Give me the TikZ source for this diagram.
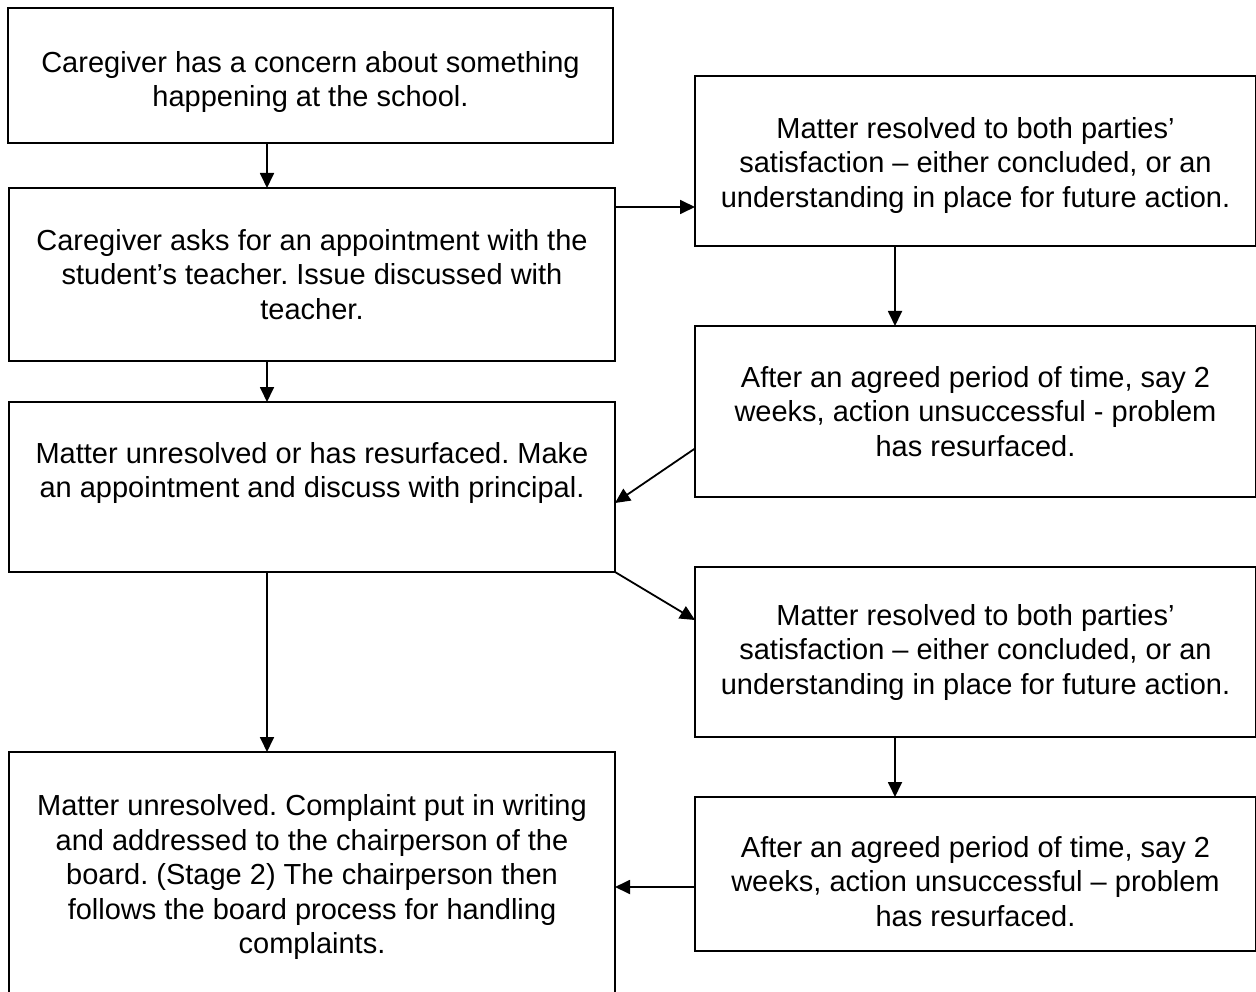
\documentclass[tikz,border=0pt]{standalone}
\usepackage{fontspec}
\setmainfont{Liberation Sans}
\frenchspacing
\usepackage{tikz}
\usetikzlibrary{positioning, arrows.meta}

\begin{document}
\begin{tikzpicture}[x=1pt, y=-1pt,
        box/.style={draw, line width=2pt, inner sep=0pt, outer sep=0pt, align=center,
            font=\fontsize{29}{34.5}\selectfont},
        leftbox/.style={box, minimum width=606pt},
        rightbox/.style={box, minimum width=561pt},
        arr/.style={line width=1.8pt, -{Triangle[length=15pt, width=14pt]}}]
        \useasboundingbox (0,0) rectangle (1256,992);

        % left column
        \node[box, minimum width=605pt, minimum height=135pt] (concern) at (310.5,75.5)
            {\rule{0pt}{34pt}Caregiver has a concern about something\\happening at the school.};
        \node[leftbox, minimum height=173pt] (teacher) at (312,274.5)
            {Caregiver asks for an appointment with the\\student’s teacher. Issue discussed with\\teacher.};
        \node[leftbox, minimum height=170pt] (principal) at (312,487)
            {Matter unresolved or has resurfaced. Make\\an appointment and discuss with principal.\\ \mbox{}};
        \node[leftbox, minimum height=242pt] (board) at (312,873)
            {\rule{0pt}{30pt}Matter unresolved. Complaint put in writing\\and addressed to the chairperson of the\\board. (Stage 2) The chairperson then\\follows the board process for handling\\complaints.};

        % right column
        \node[rightbox, minimum height=170pt] (resolved1) at (975.5,161)
            {\rule{0pt}{30pt}Matter resolved to both parties’\\satisfaction – either concluded, or an\\understanding in place for future action.};
        \node[rightbox, minimum height=171pt] (resurf1) at (975.5,411.5)
            {After an agreed period of time, say 2\\weeks, action unsuccessful - problem\\has resurfaced.};
        \node[rightbox, minimum height=170pt] (resolved2) at (975.5,652)
            {Matter resolved to both parties’\\satisfaction – either concluded, or an\\understanding in place for future action.};
        \node[rightbox, minimum height=154pt] (resurf2) at (975.5,874)
            {\rule{0pt}{36pt}After an agreed period of time, say 2\\weeks, action unsuccessful – problem\\has resurfaced.};

        \coordinate (colL) at (267,0);
        \coordinate (colR) at (895,0);
        \coordinate (rowA) at (0,207);
        \coordinate (rowB) at (0,887);

        \draw[arr] (concern.south -| colL) -- (teacher.north -| colL);
        \draw[arr] (teacher.south -| colL) -- (principal.north -| colL);
        \draw[arr] (principal.south -| colL) -- (board.north -| colL);
        \draw[arr] (teacher.east |- rowA) -- (resolved1.west |- rowA);
        \draw[arr] (resolved1.south -| colR) -- (resurf1.north -| colR);
        \draw[arr] ([yshift=-37pt]resurf1.west) -- ([yshift=-16pt]principal.east);
        \draw[arr] (principal.south east) -- ([yshift=32pt]resolved2.west);
        \draw[arr] (resolved2.south -| colR) -- (resurf2.north -| colR);
        \draw[arr] (resurf2.west |- rowB) -- (board.east |- rowB);
    \end{tikzpicture}
\end{document}
